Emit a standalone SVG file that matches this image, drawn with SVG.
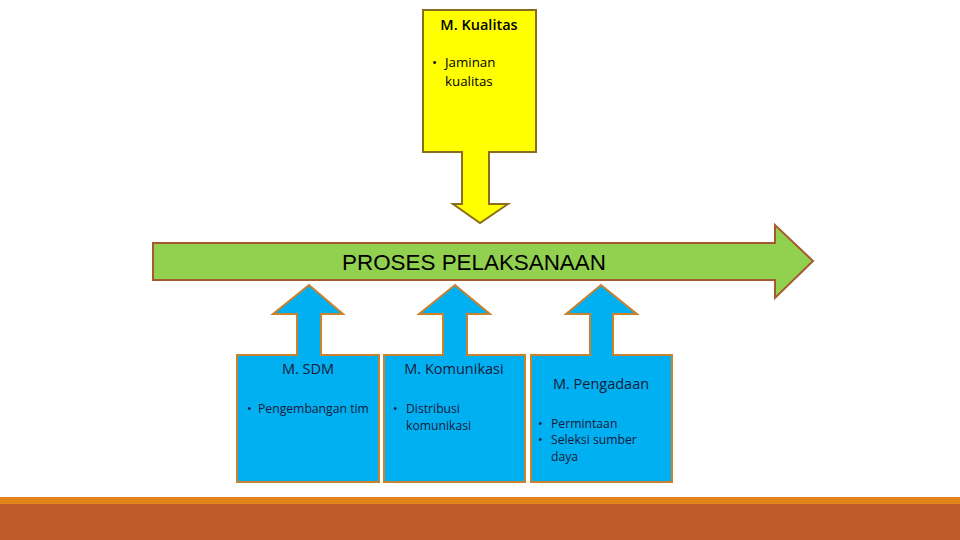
<svg xmlns="http://www.w3.org/2000/svg" width="960" height="540" viewBox="0 0 960 540">
<style>
.lbl{font-family:"Open Sans","Liberation Sans",sans-serif;font-size:14.5px;}
.t{font-family:"Open Sans","Liberation Sans",sans-serif;font-size:12.2px;fill:#1a1a3a;}
.ty{font-family:"Open Sans","Liberation Sans",sans-serif;font-size:13.3px;fill:#000;}
.blue{fill:#00B0F0;stroke:#C9822E;stroke-width:2;stroke-linejoin:miter;}
</style>
<rect x="0" y="0" width="960" height="540" fill="#ffffff"/>
<rect x="0" y="497" width="960" height="8" fill="#E2841C"/>
<rect x="0" y="504" width="960" height="36" fill="#BE5A2C"/>
<g id="connectors">
<path id="proses" d="M153,243 H775 V225 L813,261 L775,298 V280 H153 Z" fill="#92D050" stroke="#A65A2E" stroke-width="2"/>
<text x="474" y="270" text-anchor="middle" font-family="Liberation Sans, Arial, sans-serif" font-size="22.4" fill="#000">PROSES PELAKSANAAN</text>
</g>
<g id="kualitas">
<path d="M423,10 H536 V152 H489 V204 H508 L480,223 L453,204 H462 V152 H423 Z" fill="#FFFF00" stroke="#8A6D1E" stroke-width="2"/>
<text class="lbl" x="479" y="30" text-anchor="middle" font-weight="600" font-size="14.8" fill="#000">M. Kualitas</text>
<text class="ty" x="432" y="67">•</text>
<text class="ty" x="445" y="67">Jaminan</text>
<text class="ty" x="445" y="86">kualitas</text>
</g>
<g id="sdm">
<path class="blue" d="M237,482 V355 H297 V314 H273 L309,285 L343,314 H321 V355 H379 V482 Z"/>
<text class="lbl" x="308" y="374" text-anchor="middle" fill="#1a1a3a">M. SDM</text>
<text class="t" x="247" y="413">•</text>
<text class="t" x="258" y="413">Pengembangan tim</text>
</g>
<g id="komunikasi">
<path class="blue" d="M384,482 V355 H443 V314 H419 L455,285 L490,314 H467 V355 H525 V482 Z"/>
<text class="lbl" x="454" y="374" text-anchor="middle" fill="#1a1a3a">M. Komunikasi</text>
<text class="t" x="393" y="413">•</text>
<text class="t" x="406" y="413">Distribusi</text>
<text class="t" x="406" y="430">komunikasi</text>
</g>
<g id="pengadaan">
<path class="blue" d="M531,482 V355 H590 V314 H566 L601,285 L637,314 H613 V355 H672 V482 Z"/>
<text class="lbl" x="601" y="389" text-anchor="middle" fill="#1a1a3a">M. Pengadaan</text>
<text class="t" x="538" y="428">•</text>
<text class="t" x="551" y="428">Permintaan</text>
<text class="t" x="538" y="444">•</text>
<text class="t" x="551" y="444">Seleksi sumber</text>
<text class="t" x="551" y="461">daya</text>
</g>
</svg>
